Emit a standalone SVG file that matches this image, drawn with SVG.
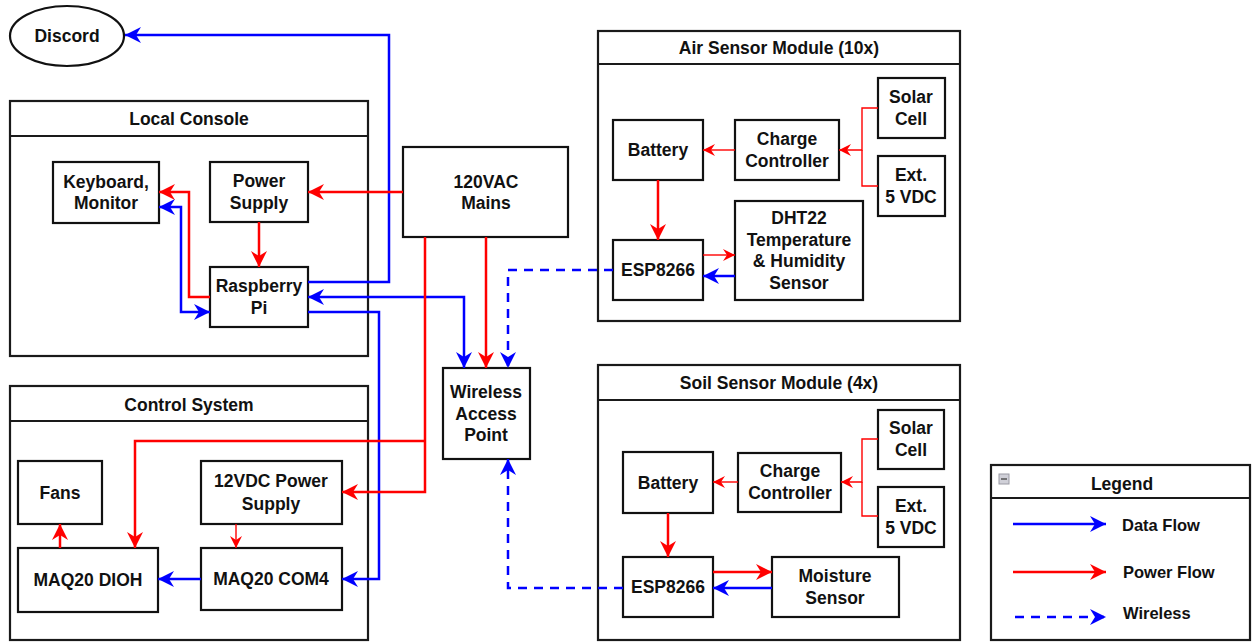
<svg xmlns="http://www.w3.org/2000/svg" width="1252" height="642" viewBox="0 0 1252 642">
<style>
.box{fill:#fff;stroke:#111;stroke-width:2.2}
.cont{fill:#fff;stroke:#1a1a1a;stroke-width:2.2}
.t{font-family:"Liberation Sans",Arial,sans-serif;font-weight:bold;font-size:17.5px;fill:#111;text-anchor:middle;dominant-baseline:central}
.lt{font-family:"Liberation Sans",Arial,sans-serif;font-weight:bold;font-size:16.5px;fill:#111;dominant-baseline:central}
.b{fill:none;stroke:#0000ff;stroke-width:2.5}
.bd{fill:none;stroke:#0000ff;stroke-width:2.5;stroke-dasharray:9 7}
.r{fill:none;stroke:#ff0000;stroke-width:2.5}
.rt{fill:none;stroke:#ff0000;stroke-width:1.4}
</style>
<defs>
<marker id="ab" viewBox="0 0 16 16" markerWidth="16" markerHeight="16" refX="16" refY="8" orient="auto-start-reverse" markerUnits="userSpaceOnUse"><path d="M0,0 L16,8 L0,16 L5,8 z" fill="#0000ff"/></marker>
<marker id="ar" viewBox="0 0 16 16" markerWidth="16" markerHeight="16" refX="16" refY="8" orient="auto-start-reverse" markerUnits="userSpaceOnUse"><path d="M0,0 L16,8 L0,16 L5,8 z" fill="#ff0000"/></marker>
<marker id="ars" viewBox="0 0 12 12" markerWidth="12" markerHeight="12" refX="12" refY="6" orient="auto" markerUnits="userSpaceOnUse"><path d="M0,0 L12,6 L0,12 L4,6 z" fill="#ff0000"/></marker>
</defs>

<g id="discord"><ellipse cx="67" cy="36" rx="57" ry="30" class="box"/><text class="t" x="67" y="36">Discord</text></g>

<g id="local-console">
<rect x="10" y="101" width="358" height="255" class="cont"/><line x1="10" y1="136" x2="368" y2="136" stroke="#1a1a1a" stroke-width="2.2"/>
<text class="t" x="189" y="119">Local Console</text>
</g>
<g id="keyboard"><rect x="53" y="162" width="106" height="61" class="box"/><text class="t" x="106" y="182">Keyboard,</text><text class="t" x="106" y="203">Monitor</text></g>
<g id="power-supply"><rect x="210" y="162" width="98" height="60" class="box"/><text class="t" x="259" y="181">Power</text><text class="t" x="259" y="203">Supply</text></g>
<g id="raspberry-pi"><rect x="210" y="267" width="98" height="60" class="box"/><text class="t" x="259" y="286">Raspberry</text><text class="t" x="259" y="308">Pi</text></g>

<g id="mains"><rect x="403" y="147" width="165" height="90" class="box"/><text class="t" x="486" y="182">120VAC</text><text class="t" x="486" y="203">Mains</text></g>
<g id="wap"><rect x="443" y="368" width="87" height="91" class="box"/><text class="t" x="486" y="392">Wireless</text><text class="t" x="486" y="414">Access</text><text class="t" x="486" y="435">Point</text></g>

<g id="control-system">
<rect x="10" y="386" width="358" height="254" class="cont"/><line x1="10" y1="421" x2="368" y2="421" stroke="#1a1a1a" stroke-width="2.2"/>
<text class="t" x="189" y="405">Control System</text>
</g>
<g id="fans"><rect x="18" y="461" width="84" height="63" class="box"/><text class="t" x="60" y="493">Fans</text></g>
<g id="psu12"><rect x="201" y="461" width="141" height="63" class="box"/><text class="t" x="271" y="481">12VDC Power</text><text class="t" x="271" y="504">Supply</text></g>
<g id="dioh"><rect x="18" y="548" width="140" height="64" class="box"/><text class="t" x="88" y="580">MAQ20 DIOH</text></g>
<g id="com4"><rect x="201" y="548" width="141" height="62" class="box"/><text class="t" x="271" y="579">MAQ20 COM4</text></g>

<g id="air-module">
<rect x="598" y="31" width="362" height="290" class="cont"/><line x1="598" y1="64" x2="960" y2="64" stroke="#1a1a1a" stroke-width="2.2"/>
<text class="t" x="779" y="48">Air Sensor Module (10x)</text>
</g>
<g id="air-battery"><rect x="613" y="120" width="90" height="60" class="box"/><text class="t" x="658" y="150">Battery</text></g>
<g id="air-charge"><rect x="735" y="120" width="104" height="60" class="box"/><text class="t" x="787" y="139">Charge</text><text class="t" x="787" y="161">Controller</text></g>
<g id="air-solar"><rect x="878" y="78" width="67" height="60" class="box"/><text class="t" x="911" y="97">Solar</text><text class="t" x="911" y="119">Cell</text></g>
<g id="air-ext"><rect x="878" y="156" width="67" height="60" class="box"/><text class="t" x="911" y="175">Ext.</text><text class="t" x="911" y="197">5 VDC</text></g>
<g id="air-dht22"><rect x="735" y="201" width="128" height="99" class="box"/><text class="t" x="799" y="218">DHT22</text><text class="t" x="799" y="240">Temperature</text><text class="t" x="799" y="261">&amp; Humidity</text><text class="t" x="799" y="283">Sensor</text></g>
<g id="air-esp"><rect x="613" y="240" width="90" height="60" class="box"/><text class="t" x="658" y="270">ESP8266</text></g>

<g id="soil-module">
<rect x="598" y="365" width="362" height="275" class="cont"/><line x1="598" y1="400" x2="960" y2="400" stroke="#1a1a1a" stroke-width="2.2"/>
<text class="t" x="779" y="383">Soil Sensor Module (4x)</text>
</g>
<g id="soil-solar"><rect x="878" y="410" width="66" height="59" class="box"/><text class="t" x="911" y="428">Solar</text><text class="t" x="911" y="450">Cell</text></g>
<g id="soil-ext"><rect x="878" y="487" width="66" height="60" class="box"/><text class="t" x="911" y="506">Ext.</text><text class="t" x="911" y="528">5 VDC</text></g>
<g id="soil-battery"><rect x="623" y="452" width="90" height="61" class="box"/><text class="t" x="668" y="483">Battery</text></g>
<g id="soil-charge"><rect x="738" y="453" width="103" height="59" class="box"/><text class="t" x="790" y="471">Charge</text><text class="t" x="790" y="493">Controller</text></g>
<g id="soil-esp"><rect x="623" y="557" width="90" height="60" class="box"/><text class="t" x="668" y="587">ESP8266</text></g>
<g id="soil-moisture"><rect x="772" y="557" width="127" height="60" class="box"/><text class="t" x="835" y="576">Moisture</text><text class="t" x="835" y="598">Sensor</text></g>

<g id="connectors">
<path class="b" d="M308,282 H389 V35 H125" marker-end="url(#ab)"/>
<path class="b" d="M159,207 H181 V312 H210" marker-start="url(#ab)" marker-end="url(#ab)"/>
<path class="b" d="M308,297 H464 V368" marker-start="url(#ab)" marker-end="url(#ab)"/>
<path class="b" d="M308,312 H379 V579 H342" marker-end="url(#ab)"/>
<path class="b" d="M201,579 H158" marker-end="url(#ab)"/>
<path class="b" d="M735,276 H703" marker-end="url(#ab)"/>
<path class="b" d="M772,588 H713" marker-end="url(#ab)"/>
<path class="bd" d="M613,270 H508 V368" marker-end="url(#ab)"/>
<path class="bd" d="M623,588 H508 V459" marker-end="url(#ab)"/>
<path class="r" d="M403,192 H308" marker-end="url(#ar)"/>
<path class="r" d="M259,222 V267" marker-end="url(#ar)"/>
<path class="r" d="M210,297 H189 V192 H159" marker-end="url(#ar)"/>
<path class="r" d="M486,237 V368" marker-end="url(#ar)"/>
<path class="r" d="M425,237 V492 H342" marker-end="url(#ar)"/>
<path class="r" d="M425,441 H135 V548" marker-end="url(#ar)"/>
<path class="r" d="M60,548 V524" marker-end="url(#ar)"/>
<path class="rt" d="M236,524 V548" marker-end="url(#ars)"/>
<path class="rt" d="M735,150 H703" marker-end="url(#ars)"/>
<path class="rt" d="M878,108 H862 V150 H839" marker-end="url(#ars)"/>
<path class="rt" d="M878,186 H862 V150"/>
<path class="r" d="M658,180 V240" marker-end="url(#ar)"/>
<path class="rt" d="M703,255 H735" marker-end="url(#ars)"/>
<path class="rt" d="M738,482 H713" marker-end="url(#ars)"/>
<path class="rt" d="M878,439 H862 V482 H841" marker-end="url(#ars)"/>
<path class="rt" d="M878,516 H862 V482"/>
<path class="r" d="M668,513 V557" marker-end="url(#ar)"/>
<path class="r" d="M713,572 H772" stroke-width="3" marker-end="url(#ar)"/>
</g>

<g id="legend">
<rect x="991" y="465" width="259" height="175" class="cont"/><line x1="991" y1="498" x2="1250" y2="498" stroke="#1a1a1a" stroke-width="2.2"/>
<rect x="999" y="474" width="10" height="10" fill="#d0d0d8" stroke="#9a9aa4" stroke-width="1"/><line x1="1001" y1="479" x2="1007" y2="479" stroke="#555" stroke-width="1.5"/>
<text class="t" x="1122" y="484">Legend</text>
<path class="b" d="M1013,524 H1106" marker-end="url(#ab)"/>
<text class="lt" x="1122" y="525">Data Flow</text>
<path class="r" d="M1013,572 H1106" marker-end="url(#ar)"/>
<text class="lt" x="1123" y="572">Power Flow</text>
<path class="bd" d="M1015,617 H1106" marker-end="url(#ab)"/>
<text class="lt" x="1123" y="613">Wireless</text>
</g>
</svg>
